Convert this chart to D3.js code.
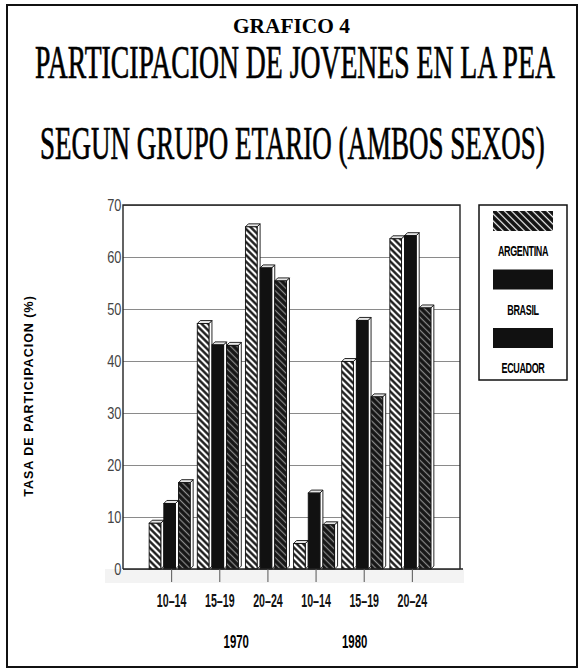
<!DOCTYPE html>
<html lang="es">
<head>
<meta charset="utf-8">
<title>Grafico 4</title>
<script src="https://cdnjs.cloudflare.com/ajax/libs/d3/7.8.5/d3.min.js"></script>
<style>
  body { margin:0; background:#fff; }
  svg { display:block; }
</style>
</head>
<body>
<div id="chart"></div>
<script>
// data
var years = ["1970", "1980"];
var ageGroups = ["10\u201314", "15\u201319", "20\u201324"];
var series = ["ARGENTINA", "BRASIL", "ECUADOR"];
var argentina = [8.8, 47.2, 65.8, 4.9, 39.9, 63.5];
var brasil    = [12.6, 43.1, 57.9, 14.6, 47.8, 64.1];
var ecuador   = [16.6, 43.0, 55.4, 8.5, 33.1, 50.2];
var yTicks = [0, 10, 20, 30, 40, 50, 60, 70];

var values = { ARGENTINA: argentina, BRASIL: brasil, ECUADOR: ecuador };
var fills = { ARGENTINA: "url(#argHatch)", BRASIL: "#111", ECUADOR: "url(#ecuHatch)" };
var legendFills = { ARGENTINA: "url(#legHatch)", BRASIL: "#111", ECUADOR: "#111" };

var keys = [];
years.forEach(function(yr) {
  ageGroups.forEach(function(ag) { keys.push(yr + "|" + ag); });
});

var width = 582, height = 669;
var plotLeft = 123, plotRight = 460, plotTop = 205, plotBottom = 569;
var depth = 3;

var svg = d3.select("#chart").append("svg")
    .attr("width", width)
    .attr("height", height);

var defs = svg.append("defs");
function hatch(id, bg, fg, size, lw) {
  var p = defs.append("pattern")
      .attr("id", id)
      .attr("patternUnits", "userSpaceOnUse")
      .attr("width", size).attr("height", size)
      .attr("patternTransform", "rotate(-45)");
  p.append("rect").attr("width", size).attr("height", size).attr("fill", bg);
  p.append("line").attr("x1", size / 2).attr("y1", 0).attr("x2", size / 2).attr("y2", size)
      .attr("stroke", fg).attr("stroke-width", lw);
}
hatch("argHatch", "#fff", "#111", 4.6, 2.3);
hatch("ecuHatch", "#151515", "#8c8c8c", 4.6, 1.2);
hatch("legHatch", "#111", "#fff", 5, 1.2);

svg.append("rect").attr("width", width).attr("height", height).attr("fill", "#fff");

// outer frame
svg.append("rect")
    .attr("x", 7).attr("y", 5)
    .attr("width", 570).attr("height", 662)
    .attr("fill", "none").attr("stroke", "#111").attr("stroke-width", 2);

// squeeze a text horizontally so it spans a given width
function fitText(sel, x0, yb, w) {
  var natural = sel.node().getComputedTextLength();
  sel.attr("transform", "translate(" + x0 + "," + yb + ") scale(" + (w / natural) + ",1)");
}

// titles
fitText(svg.append("text")
    .style("font-family", "'Liberation Serif', serif")
    .style("font-weight", "bold")
    .style("font-size", "20px")
    .text("GRAFICO 4"), 233, 33, 117);

fitText(svg.append("text")
    .attr("stroke", "#000").attr("stroke-width", 0.7)
    .style("font-family", "'Liberation Serif', serif")
    .style("font-size", "46px")
    .text("PARTICIPACION DE JOVENES EN LA PEA"), 35, 78, 520);

fitText(svg.append("text")
    .attr("stroke", "#000").attr("stroke-width", 0.7)
    .style("font-family", "'Liberation Serif', serif")
    .style("font-size", "46px")
    .text("SEGUN GRUPO ETARIO (AMBOS SEXOS)"), 40, 159, 505);

// scales
var y = d3.scaleLinear().domain([0, 70]).range([plotBottom, plotTop]);
var x = d3.scalePoint().domain(keys).range([plotLeft, plotRight]).padding(1);
var xs = d3.scaleBand().domain(series).range([-22, 22]);

// faint floor under the axis
svg.append("rect")
    .attr("x", 105).attr("y", plotBottom)
    .attr("width", plotRight - 105 + 4).attr("height", 14)
    .attr("fill", "#f3f3f3");

// gridlines + y labels
var yAxis = svg.append("g")
    .attr("transform", "translate(" + plotLeft + ",0)")
    .call(d3.axisLeft(y).tickValues(yTicks).tickSize(-(plotRight - plotLeft)).tickPadding(2));
yAxis.select(".domain").remove();
yAxis.selectAll(".tick line").attr("stroke", "#8a8a8a").attr("stroke-width", 1.2);
yAxis.selectAll(".tick text")
    .attr("fill", "#444")
    .style("font-family", "'Liberation Sans', sans-serif")
    .style("font-size", "16px")
    .attr("transform", "scale(0.8,1)");

// plot frame
svg.append("path")
    .attr("d", "M" + plotLeft + "," + plotBottom + "V" + plotTop + "H" + plotRight + "V" + plotBottom)
    .attr("fill", "none").attr("stroke", "#222").attr("stroke-width", 1.4);

// bars
var groups = svg.append("g").selectAll("g")
    .data(keys)
    .join("g")
    .attr("transform", function(d) { return "translate(" + x(d) + ",0)"; });

var bw = xs.bandwidth() - depth;
groups.each(function(k, i) {
  var g = d3.select(this);
  series.forEach(function(s) {
    var v = values[s][i];
    var x0 = xs(s), yv = y(v), y0 = y(0);
    // side face
    g.append("path")
        .attr("d", "M" + (x0 + bw) + "," + y0 + "L" + (x0 + bw) + "," + yv +
              "L" + (x0 + bw + depth) + "," + (yv - depth) + "L" + (x0 + bw + depth) + "," + (y0 - depth) + "Z")
        .attr("fill", "#fff").attr("stroke", "#111").attr("stroke-width", 0.9);
    // top face
    g.append("path")
        .attr("d", "M" + x0 + "," + yv + "L" + (x0 + depth) + "," + (yv - depth) +
              "L" + (x0 + bw + depth) + "," + (yv - depth) + "L" + (x0 + bw) + "," + yv + "Z")
        .attr("fill", "#e6e6e6").attr("stroke", "#111").attr("stroke-width", 0.9);
    // front face
    g.append("rect")
        .attr("x", x0).attr("y", yv)
        .attr("width", bw).attr("height", y0 - yv)
        .attr("fill", fills[s]).attr("stroke", "#111").attr("stroke-width", 0.9);
  });
});

// x axis
var xAxis = svg.append("g")
    .attr("transform", "translate(0," + plotBottom + ")")
    .call(d3.axisBottom(x).tickSize(13).tickPadding(12)
      .tickFormat(function(d) { return d.split("|")[1]; }));
xAxis.select(".domain")
    .attr("d", "M" + plotLeft + ",0H" + (plotRight + 3))
    .attr("stroke", "#222").attr("stroke-width", 1.4);
xAxis.selectAll(".tick line").attr("stroke", "#555");
xAxis.selectAll(".tick text")
    .attr("fill", "#111")
    .style("font-family", "'Liberation Sans', sans-serif")
    .style("font-weight", "bold")
    .style("font-size", "19px")
    .attr("transform", "scale(0.56,1)");

// year labels
var yearOffsets = [17, -9];
years.forEach(function(yr, i) {
  var a = x(yr + "|" + ageGroups[0]), b = x(yr + "|" + ageGroups[ageGroups.length - 1]);
  svg.append("text")
      .attr("transform", "translate(" + ((a + b) / 2 + yearOffsets[i]) + ",648) scale(0.6,1)")
      .attr("text-anchor", "middle")
      .style("font-family", "'Liberation Sans', sans-serif")
      .style("font-weight", "bold")
      .style("font-size", "19px")
      .text(yr);
});

// y title
svg.append("text")
    .attr("transform", "translate(33,396) rotate(-90)")
    .attr("text-anchor", "middle")
    .style("font-family", "'Liberation Sans', sans-serif")
    .style("font-weight", "bold")
    .style("font-size", "12.5px")
    .style("letter-spacing", "1px")
    .text("TASA DE PARTICIPACION (%)");

// legend
var legend = svg.append("g");
legend.append("rect")
    .attr("x", 479).attr("y", 205)
    .attr("width", 88).attr("height", 175)
    .attr("fill", "#fff").attr("stroke", "#111").attr("stroke-width", 1.5);
var ly = d3.scalePoint().domain(series).range([211, 328]);
series.forEach(function(s) {
  legend.append("rect")
      .attr("x", 493).attr("y", ly(s))
      .attr("width", 60).attr("height", 20)
      .attr("fill", legendFills[s]);
  legend.append("text")
      .attr("transform", "translate(523," + (ly(s) + 45) + ") scale(0.6,1)")
      .attr("text-anchor", "middle")
      .style("font-family", "'Liberation Sans', sans-serif")
      .style("font-weight", "bold")
      .style("font-size", "15px")
      .style("letter-spacing", "-0.6px")
      .text(s);
});
</script>
</body>
</html>
